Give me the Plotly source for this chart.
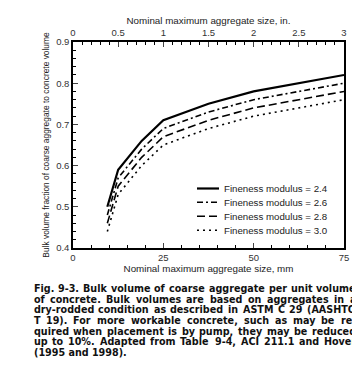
import glob
import struct
import plotly.graph_objects as go

sizes_mm = [9.5, 12.5, 19, 25, 37.5, 50, 75]
fm_24 = [0.50, 0.59, 0.66, 0.71, 0.75, 0.78, 0.82]
fm_26 = [0.48, 0.57, 0.64, 0.69, 0.73, 0.76, 0.80]
fm_28 = [0.46, 0.55, 0.62, 0.67, 0.71, 0.74, 0.78]
fm_30 = [0.44, 0.53, 0.60, 0.65, 0.69, 0.72, 0.76]
series_names = ["Fineness modulus = 2.4", "Fineness modulus = 2.6",
                "Fineness modulus = 2.8", "Fineness modulus = 3.0"]
mm_ticks = [0, 25, 50, 75]
in_ticks = [0, 0.5, 1, 1.5, 2, 2.5, 3]
y_ticks = [0.4, 0.5, 0.6, 0.7, 0.8, 0.9]

caption_lines = [
    "Fig. 9-3. Bulk volume of coarse aggregate per unit volume",
    "of concrete. Bulk volumes are based on aggregates in a",
    "dry-rodded condition as described in ASTM C 29 (AASHTO",
    "T 19). For more workable concrete, such as may be re-",
    "quired when placement is by pump, they may be reduced",
    "up to 10%. Adapted from Table 9-4, ACI 211.1 and Hover",
    "(1995 and 1998).",
]

styles = [
    dict(dash="solid", width=2.2),
    dict(dash="6px,3px,2px,3px", width=1.6),
    dict(dash="8px,4px", width=1.6),
    dict(dash="2px,4px", width=1.6),
]

# the page body keeps an 8px margin, so the figure is drawn 8px smaller
OFF = 8
W, H = 360 - OFF, 370 - OFF
L, R, T, B = 73 - OFF, 16, 42 - OFF, 122
PW, PH = W - L - R, H - T - B


def px_x(p):  # p: x position in the 360x370 screen
    return (p - OFF - L) / PW


def px_y(p):
    return (H - B - (p - OFF)) / PH


# ---- font metrics (for justifying the caption like the printed figure) ----
def _parse_ttf(data):
    u16 = lambda o: struct.unpack(">H", data[o:o + 2])[0]
    i16 = lambda o: struct.unpack(">h", data[o:o + 2])[0]
    num = u16(4)
    tables = {}
    for i in range(num):
        tag, _cs, off, _ln = struct.unpack(">4sIII", data[12 + 16 * i:28 + 16 * i])
        tables[tag.decode("latin1")] = off
    upem = u16(tables["head"] + 18)
    nh = u16(tables["hhea"] + 34)
    hm = tables["hmtx"]
    cm = tables["cmap"]
    sub = None
    for i in range(u16(cm + 2)):
        pid, eid, off = struct.unpack(">HHI", data[cm + 4 + 8 * i:cm + 12 + 8 * i])
        if (pid == 3 and eid == 1) or (pid == 0 and sub is None):
            if u16(cm + off) == 4:
                sub = cm + off
    segx2 = u16(sub + 6)
    seg = segx2 // 2
    ends = sub + 14
    starts = ends + segx2 + 2
    deltas = starts + segx2
    ros = deltas + segx2

    def gid(ch):
        c = ord(ch)
        for i in range(seg):
            if u16(ends + 2 * i) >= c:
                s = u16(starts + 2 * i)
                if s > c:
                    return 0
                d = i16(deltas + 2 * i)
                ro = u16(ros + 2 * i)
                if ro == 0:
                    return (c + d) & 0xFFFF
                g = u16(ros + 2 * i + ro + 2 * (c - s))
                return (g + d) & 0xFFFF if g else 0
        return 0

    def width(ch):
        g = min(gid(ch), nh - 1)
        return u16(hm + 4 * g) / upem

    return width


def load_widths():
    for pat in ["/usr/share/fonts/**/DejaVuSans-Bold.ttf",
                "/usr/local/share/fonts/**/DejaVuSans-Bold.ttf"]:
        for f in glob.glob(pat, recursive=True):
            try:
                with open(f, "rb") as fh:
                    return _parse_ttf(fh.read())
            except Exception:
                continue
    return lambda ch: 0.35 if ch == " " else 0.66


char_w = load_widths()


def word_em(w):
    return sum(char_w(c) for c in w)


CAP_LEFT, CAP_RIGHT = 33.5, 356.0
CAP_W = CAP_RIGHT - CAP_LEFT
MIN_GAP_EM = 0.38
cap_size = 9.6
for line in caption_lines[:-1]:
    words = line.split(" ")
    need = sum(word_em(w) for w in words) + MIN_GAP_EM * (len(words) - 1)
    cap_size = min(cap_size, CAP_W / need)

fig = go.Figure()
for vals, name, st in zip([fm_24, fm_26, fm_28, fm_30], series_names, styles):
    fig.add_trace(go.Scatter(x=sizes_mm, y=vals, mode="lines", name=name,
                             line=dict(color="black", **st), showlegend=False))
# invisible trace to carry the top (inch) axis
fig.add_trace(go.Scatter(x=[0, 3], y=[0.4, 0.4], xaxis="x2", mode="lines",
                         line=dict(width=0), showlegend=False, hoverinfo="skip"))

font_family = "Liberation Sans, Arial, sans-serif"
tick_font = dict(family=font_family, size=9.5, color="#333")
title_font = dict(family=font_family, size=9.8, color="#222")

fig.update_layout(
    width=W, height=H,
    margin=dict(l=L, r=R, t=T, b=B, autoexpand=False),
    paper_bgcolor="white", plot_bgcolor="white",
    font=dict(family=font_family, color="#222"),
    showlegend=False,
    xaxis=dict(range=[0, 75], tickvals=mm_ticks, ticks="inside", ticklen=5,
               minor=dict(dtick=5, ticks="inside", ticklen=3, tickcolor="black"),
               showgrid=False, zeroline=False, showline=True, linecolor="black", linewidth=1.5,
               tickfont=tick_font, automargin=False,
               title=dict(text="Nominal maximum aggregate size, mm", font=title_font, standoff=1)),
    xaxis2=dict(range=[0, 3], tickvals=in_ticks, overlaying="x", side="top",
                ticks="inside", ticklen=5,
                minor=dict(dtick=0.1, ticks="inside", ticklen=3, tickcolor="black"),
                showgrid=False, zeroline=False, showline=True, linecolor="black", linewidth=1.5,
                tickfont=tick_font, automargin=False,
                title=dict(text="Nominal maximum aggregate size, in.", font=title_font, standoff=1)),
    yaxis=dict(range=[0.4, 0.9], tickvals=y_ticks, tickformat=".1f", ticks="inside", ticklen=5,
               minor=dict(dtick=0.02, ticks="inside", ticklen=3, tickcolor="black"),
               showgrid=False, zeroline=False, showline=True, linecolor="black", linewidth=1.5,
               mirror=True, tickfont=tick_font, automargin=False,
               title=dict(text="Bulk volume fraction of coarse aggregate to concrete volume",
                          font=dict(family=font_family, size=8.4, color="#222"), standoff=5)),
)

# legend drawn inside the plot (sample line + label)
leg_rows = [188.5, 202.3, 216.2, 230.2]
for name, st, row in zip(series_names, styles, leg_rows):
    fig.add_shape(type="line", xref="paper", yref="paper",
                  x0=px_x(197), x1=px_x(219), y0=px_y(row), y1=px_y(row),
                  line=dict(color="black", **st))
    fig.add_annotation(text=name, xref="paper", yref="paper",
                       x=px_x(224), y=px_y(row), xanchor="left", yanchor="middle",
                       showarrow=False, borderpad=0, borderwidth=0,
                       font=dict(family=font_family, size=9.7, color="#222"))

# caption, justified word by word like the printed figure
cap_font = dict(family="DejaVu Sans", size=cap_size, color="#111")
cap_rows = [288.3, 299.0, 309.6, 320.3, 331.0, 341.7, 352.4]
for li, (line, row) in enumerate(zip(caption_lines, cap_rows)):
    words = line.split(" ")
    if li == len(caption_lines) - 1:
        fig.add_annotation(text="<b>" + line + "</b>", xref="paper", yref="paper",
                           x=px_x(CAP_LEFT), y=px_y(row), xanchor="left", yanchor="middle",
                           showarrow=False, borderpad=0, borderwidth=0, font=cap_font)
        continue
    widths = [word_em(w) * cap_size for w in words]
    gap = (CAP_W - sum(widths)) / (len(words) - 1)
    xpos = CAP_LEFT
    for wi, (w, ww) in enumerate(zip(words, widths)):
        last = wi == len(words) - 1
        fig.add_annotation(text="<b>" + w + "</b>", xref="paper", yref="paper",
                           x=px_x(CAP_RIGHT if last else xpos), y=px_y(row),
                           xanchor="right" if last else "left", yanchor="middle",
                           showarrow=False, borderpad=0, borderwidth=0, font=cap_font)
        xpos += ww + gap

fig.write_html("out.html")
